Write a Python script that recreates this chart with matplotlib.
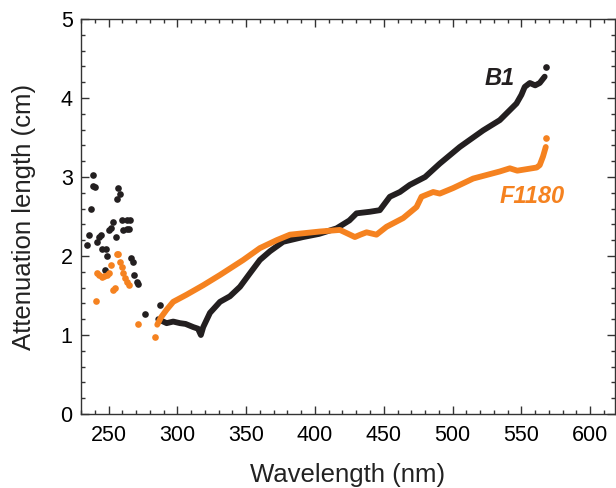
import numpy as np
import matplotlib
matplotlib.use('Agg')
import matplotlib.pyplot as plt
from matplotlib.ticker import MultipleLocator

plt.rcParams['font.family'] = ['Liberation Sans', 'DejaVu Sans']

# --- B1 (black) ---
b1_scatter_x = [234.1, 235.8, 237.0, 238.5, 238.9, 240.2, 241.4, 243.1, 244.3, 245.5,
                247.4, 248.2, 249.1, 250.6, 251.6, 253.5, 255.2, 255.9, 257.1, 258.3,
                259.6, 260.7, 263.2, 263.2, 265.1, 265.6, 266.3, 267.5, 268.7, 270.5,
                271.6, 276.5, 287.4, 568.2]
b1_scatter_y = [2.14, 2.27, 2.59, 2.88, 3.02, 2.87, 2.18, 2.24, 2.26, 2.09,
                1.82, 2.09, 2.00, 2.33, 2.35, 2.43, 2.24, 2.72, 2.86, 2.79,
                2.46, 2.33, 2.45, 2.34, 2.34, 2.45, 1.98, 1.92, 1.76, 1.67,
                1.65, 1.26, 1.38, 4.39]
b1_x = [286.1, 292.2, 297.0, 301.9, 306.0, 311.6, 315.0, 317.1, 318.8, 323.7,
        331.0, 338.2, 345.5, 352.7, 360.0, 367.3, 376.9, 391.4, 403.0, 415.7,
        425.0, 430.2, 439.9, 447.1, 454.4, 461.7, 468.9, 480.0, 490.7, 505.2,
        522.2, 534.3, 546.4, 550.0, 552.4, 556.1, 560.0, 563.3, 566.9]
b1_y = [1.20, 1.15, 1.17, 1.15, 1.14, 1.10, 1.08, 1.00, 1.10, 1.28,
        1.42, 1.49, 1.61, 1.78, 1.95, 2.06, 2.18, 2.24, 2.28, 2.35,
        2.45, 2.54, 2.56, 2.58, 2.75, 2.81, 2.90, 3.00, 3.17, 3.38,
        3.59, 3.72, 3.93, 4.04, 4.14, 4.19, 4.16, 4.19, 4.27]

# --- F1180 (orange) ---
f_scatter_x = [240.9, 241.4, 243.3, 245.0, 246.9, 248.7, 250.6, 251.8, 253.0, 254.7,
               255.9, 257.1, 258.3, 259.6, 260.7, 262.0, 263.2, 265.1, 271.6, 283.7,
               568.2]
f_scatter_y = [1.43, 1.79, 1.76, 1.73, 1.75, 1.76, 1.78, 1.89, 1.57, 1.59,
               2.03, 2.03, 1.93, 1.86, 1.79, 1.72, 1.67, 1.63, 1.14, 0.98,
               3.50]
f_x = [285.4, 288.0, 292.2, 297.0, 306.7, 318.8, 331.0, 347.9, 360.0, 372.1,
       381.8, 403.6, 418.1, 423.0, 429.0, 433.0, 437.5, 444.7, 452.0, 464.1,
       473.8, 477.4, 485.9, 490.7, 500.4, 514.9, 534.3, 541.6, 547.0, 561.1,
       563.3, 565.7, 567.7]
f_y = [1.13, 1.22, 1.32, 1.42, 1.51, 1.63, 1.76, 1.95, 2.10, 2.20,
       2.27, 2.31, 2.33, 2.29, 2.24, 2.27, 2.30, 2.27, 2.37, 2.48,
       2.62, 2.75, 2.81, 2.79, 2.86, 2.98, 3.07, 3.11, 3.08, 3.12,
       3.15, 3.26, 3.38]

black = '#231f20'
orange = '#f58220'

fig = plt.figure(figsize=(6.16, 4.88), dpi=100)
ax = fig.add_axes([81 / 616, 74 / 488, 534 / 616, 395 / 488])

ax.plot(b1_x, b1_y, '-', color=black, lw=4.2, solid_capstyle='round',
        solid_joinstyle='round')
ax.plot(b1_scatter_x, b1_scatter_y, 'o', color=black, ms=4.8, mew=0)
ax.plot(f_x, f_y, '-', color=orange, lw=4.2, solid_capstyle='round',
        solid_joinstyle='round')
ax.plot(f_scatter_x, f_scatter_y, 'o', color=orange, ms=4.8, mew=0)

ax.text(534, 4.25, 'B1', color=black, fontsize=17, fontweight='bold',
        fontstyle='italic', ha='center', va='center')
ax.text(558, 2.75, 'F1180', color=orange, fontsize=17, fontweight='bold',
        fontstyle='italic', ha='center', va='center')

ax.set_xlim(230, 618)
ax.set_ylim(0, 5)
ax.xaxis.set_major_locator(MultipleLocator(50))
ax.xaxis.set_minor_locator(MultipleLocator(10))
ax.yaxis.set_major_locator(MultipleLocator(1))
ax.yaxis.set_minor_locator(MultipleLocator(0.2))
ax.tick_params(which='both', direction='in', top=True, right=True,
               width=1.0, color='#333333')
ax.tick_params(which='major', length=5.5, labelsize=15.5)
ax.tick_params(which='minor', length=3)
ax.tick_params(axis='x', pad=8)
ax.tick_params(axis='y', pad=6)
for s in ax.spines.values():
    s.set_linewidth(1.0)
    s.set_color('#333333')

ax.set_xlabel('Wavelength (nm)', fontsize=18.5, color='#222222')
ax.set_ylabel('Attenuation length (cm)', fontsize=18.5, color='#222222')
ax.xaxis.set_label_coords(0.5, -0.125)
ax.yaxis.set_label_coords(-0.085, 0.5)

plt.savefig('out.png', dpi=100)
